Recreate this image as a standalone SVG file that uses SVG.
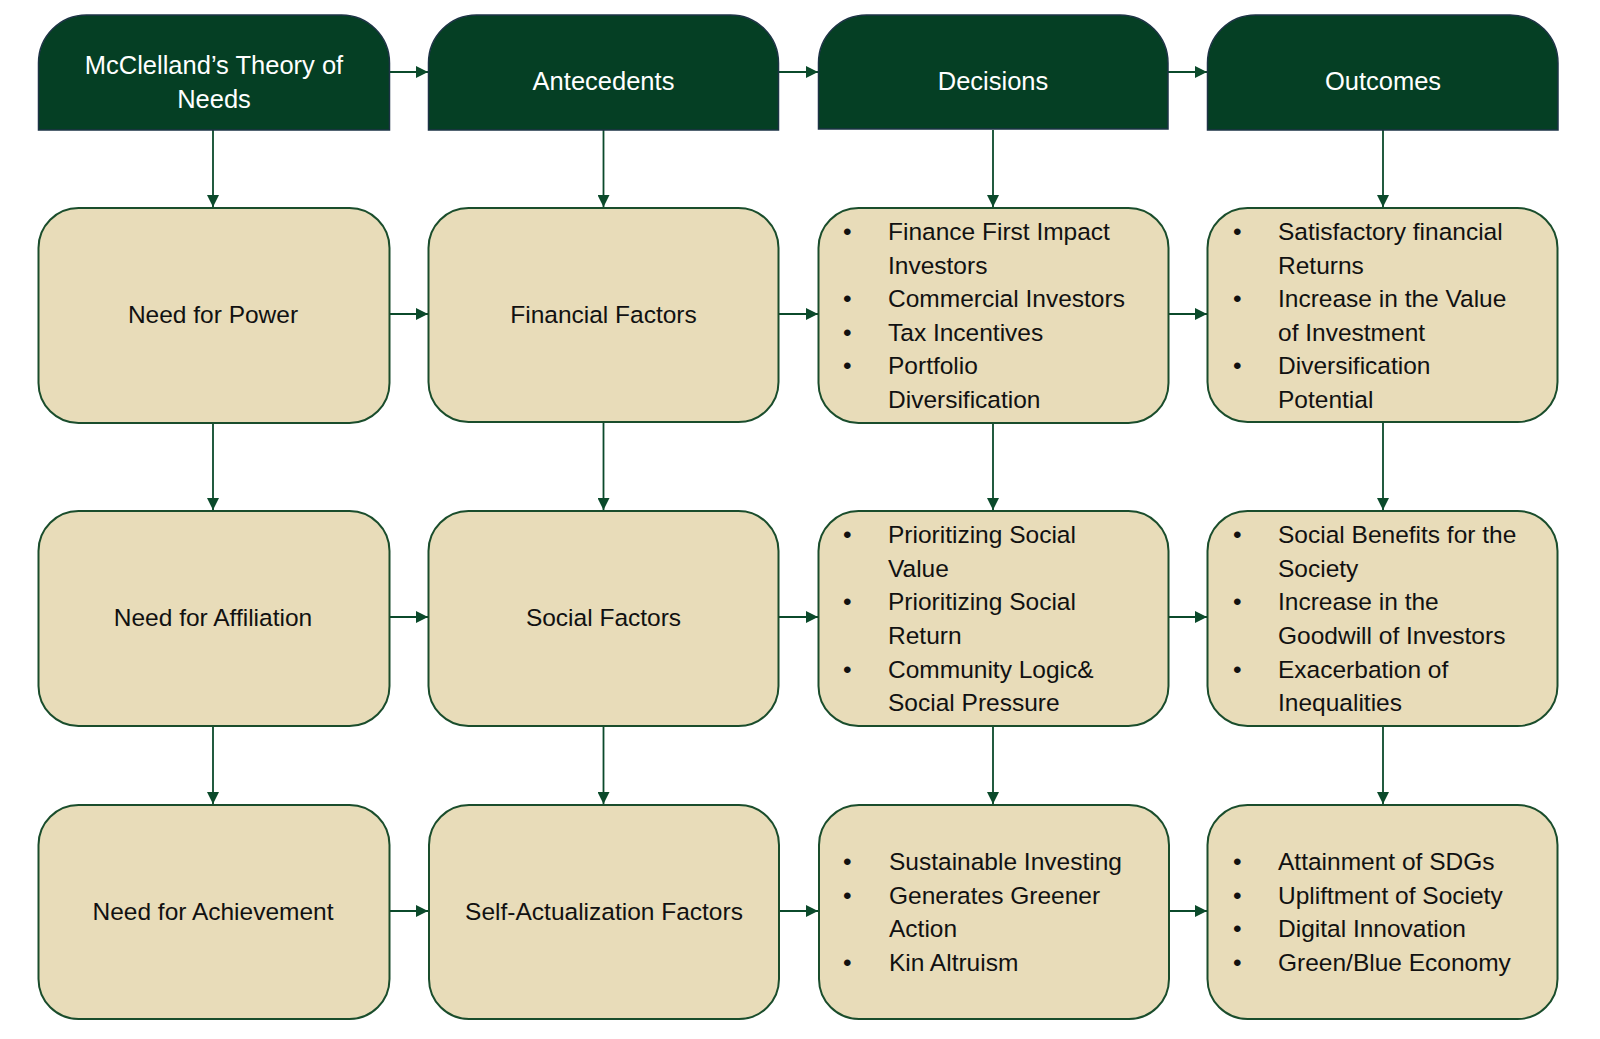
<svg xmlns="http://www.w3.org/2000/svg" width="1600" height="1039" viewBox="0 0 1600 1039">
<defs>
<marker id="arr" markerUnits="userSpaceOnUse" markerWidth="12" markerHeight="12" viewBox="0 0 12 12" refX="12" refY="6" orient="auto">
<path d="M0,0 L12,6 L0,12 Z" fill="#0b4a2b"/>
</marker>
</defs>
<style>
.hdr{fill:#053f24;stroke:#1d3345;stroke-width:1.5}
.box{fill:#e8dcb9;stroke:#1a4d2c;stroke-width:2}
.ht{font-family:"Liberation Sans",Arial,sans-serif;font-size:25.5px;fill:#ffffff;text-anchor:middle}
.bt{font-family:"Liberation Sans",Arial,sans-serif;font-size:24.5px;fill:#111111}
.ct{text-anchor:middle}
.con{stroke:#0b4a2b;stroke-width:1.8;fill:none;marker-end:url(#arr)}
</style>
<rect width="1600" height="1039" fill="#ffffff"/>
<g id="connectors">
<line class="con" x1="390" y1="72" x2="428" y2="72"/>
<line class="con" x1="779" y1="72" x2="818" y2="72"/>
<line class="con" x1="1168" y1="72" x2="1207" y2="72"/>
<line class="con" x1="213" y1="130" x2="213" y2="207"/>
<line class="con" x1="603.5" y1="130" x2="603.5" y2="207"/>
<line class="con" x1="993" y1="130" x2="993" y2="207"/>
<line class="con" x1="1383" y1="130" x2="1383" y2="207"/>
<line class="con" x1="213" y1="423" x2="213" y2="510"/>
<line class="con" x1="603.5" y1="423" x2="603.5" y2="510"/>
<line class="con" x1="993" y1="423" x2="993" y2="510"/>
<line class="con" x1="1383" y1="423" x2="1383" y2="510"/>
<line class="con" x1="213" y1="726" x2="213" y2="804"/>
<line class="con" x1="603.5" y1="726" x2="603.5" y2="804"/>
<line class="con" x1="993" y1="726" x2="993" y2="804"/>
<line class="con" x1="1383" y1="726" x2="1383" y2="804"/>
<line class="con" x1="389" y1="314" x2="428" y2="314"/>
<line class="con" x1="779" y1="314" x2="818" y2="314"/>
<line class="con" x1="1168" y1="314" x2="1207" y2="314"/>
<line class="con" x1="389" y1="617" x2="428" y2="617"/>
<line class="con" x1="779" y1="617" x2="818" y2="617"/>
<line class="con" x1="1168" y1="617" x2="1207" y2="617"/>
<line class="con" x1="389" y1="911" x2="428" y2="911"/>
<line class="con" x1="779" y1="911" x2="818" y2="911"/>
<line class="con" x1="1168" y1="911" x2="1207" y2="911"/>
</g>
<g id="h1">
<path class="hdr" d="M38.5,130 V63 A48,48 0 0 1 86.5,15 H341.5 A48,48 0 0 1 389.5,63 V130 Z"/>
<text class="ht" x="214" y="74">McClelland’s Theory of</text>
<text class="ht" x="214" y="108">Needs</text>
</g>
<g id="h2">
<path class="hdr" d="M428.5,130 V63 A48,48 0 0 1 476.5,15 H730.5 A48,48 0 0 1 778.5,63 V130 Z"/>
<text class="ht" x="603.5" y="90">Antecedents</text>
</g>
<g id="h3">
<path class="hdr" d="M818.5,129 V63 A48,48 0 0 1 866.5,15 H1120 A48,48 0 0 1 1168,63 V129 Z"/>
<text class="ht" x="993" y="90">Decisions</text>
</g>
<g id="h4">
<path class="hdr" d="M1207.5,130 V63 A48,48 0 0 1 1255.5,15 H1510 A48,48 0 0 1 1558,63 V130 Z"/>
<text class="ht" x="1383" y="90">Outcomes</text>
</g>
<g id="n-power">
<rect class="box" x="38.5" y="208" width="351" height="215" rx="40"/>
<text class="bt ct" x="213" y="323">Need for Power</text>
</g>
<g id="n-financial">
<rect class="box" x="428.5" y="208" width="350" height="214" rx="40"/>
<text class="bt ct" x="603.5" y="323">Financial Factors</text>
</g>
<g id="n-dec1">
<rect class="box" x="818.5" y="208" width="350" height="215" rx="40"/>
<text class="bt" x="843" y="240">•</text><text class="bt" x="888" y="240">Finance First Impact</text>
<text class="bt" x="888" y="273.5">Investors</text>
<text class="bt" x="843" y="307">•</text><text class="bt" x="888" y="307">Commercial Investors</text>
<text class="bt" x="843" y="340.5">•</text><text class="bt" x="888" y="340.5">Tax Incentives</text>
<text class="bt" x="843" y="374">•</text><text class="bt" x="888" y="374">Portfolio</text>
<text class="bt" x="888" y="407.5">Diversification</text>
</g>
<g id="n-out1">
<rect class="box" x="1207.5" y="208" width="350" height="214" rx="40"/>
<text class="bt" x="1233" y="240">•</text><text class="bt" x="1278" y="240">Satisfactory financial</text>
<text class="bt" x="1278" y="273.5">Returns</text>
<text class="bt" x="1233" y="307">•</text><text class="bt" x="1278" y="307">Increase in the Value</text>
<text class="bt" x="1278" y="340.5">of Investment</text>
<text class="bt" x="1233" y="374">•</text><text class="bt" x="1278" y="374">Diversification</text>
<text class="bt" x="1278" y="407.5">Potential</text>
</g>
<g id="n-affiliation">
<rect class="box" x="38.5" y="511" width="351" height="215" rx="40"/>
<text class="bt ct" x="213" y="626">Need for Affiliation</text>
</g>
<g id="n-social">
<rect class="box" x="428.5" y="511" width="350" height="215" rx="40"/>
<text class="bt ct" x="603.5" y="626">Social Factors</text>
</g>
<g id="n-dec2">
<rect class="box" x="818.5" y="511" width="350" height="215" rx="40"/>
<text class="bt" x="843" y="543">•</text><text class="bt" x="888" y="543">Prioritizing Social</text>
<text class="bt" x="888" y="576.5">Value</text>
<text class="bt" x="843" y="610">•</text><text class="bt" x="888" y="610">Prioritizing Social</text>
<text class="bt" x="888" y="644">Return</text>
<text class="bt" x="843" y="677.5">•</text><text class="bt" x="888" y="677.5">Community Logic&amp;</text>
<text class="bt" x="888" y="710.5">Social Pressure</text>
</g>
<g id="n-out2">
<rect class="box" x="1207.5" y="511" width="350" height="215" rx="40"/>
<text class="bt" x="1233" y="543">•</text><text class="bt" x="1278" y="543">Social Benefits for the</text>
<text class="bt" x="1278" y="576.5">Society</text>
<text class="bt" x="1233" y="610">•</text><text class="bt" x="1278" y="610">Increase in the</text>
<text class="bt" x="1278" y="644">Goodwill of Investors</text>
<text class="bt" x="1233" y="677.5">•</text><text class="bt" x="1278" y="677.5">Exacerbation of</text>
<text class="bt" x="1278" y="710.5">Inequalities</text>
</g>
<g id="n-achievement">
<rect class="box" x="38.5" y="805" width="351" height="214" rx="40"/>
<text class="bt ct" x="213" y="920">Need for Achievement</text>
</g>
<g id="n-selfact">
<rect class="box" x="429" y="805" width="350" height="214" rx="40"/>
<text class="bt ct" x="604" y="920">Self-Actualization Factors</text>
</g>
<g id="n-dec3">
<rect class="box" x="819" y="805" width="350" height="214" rx="40"/>
<text class="bt" x="843" y="870">•</text><text class="bt" x="889" y="870">Sustainable Investing</text>
<text class="bt" x="843" y="903.5">•</text><text class="bt" x="889" y="903.5">Generates Greener</text>
<text class="bt" x="889" y="937">Action</text>
<text class="bt" x="843" y="970.5">•</text><text class="bt" x="889" y="970.5">Kin Altruism</text>
</g>
<g id="n-out3">
<rect class="box" x="1207.5" y="805" width="350" height="214" rx="40"/>
<text class="bt" x="1233" y="870">•</text><text class="bt" x="1278" y="870">Attainment of SDGs</text>
<text class="bt" x="1233" y="903.5">•</text><text class="bt" x="1278" y="903.5">Upliftment of Society</text>
<text class="bt" x="1233" y="937">•</text><text class="bt" x="1278" y="937">Digital Innovation</text>
<text class="bt" x="1233" y="970.5">•</text><text class="bt" x="1278" y="970.5">Green/Blue Economy</text>
</g>
</svg>
